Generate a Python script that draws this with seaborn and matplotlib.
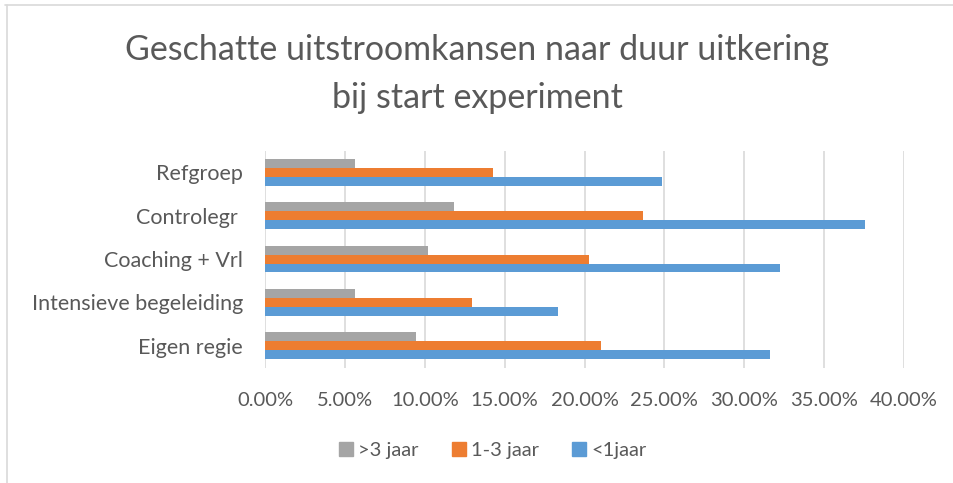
import matplotlib
matplotlib.use("Agg")
import matplotlib.pyplot as plt
import seaborn as sns
import pandas as pd
from matplotlib.ticker import FuncFormatter
from matplotlib.lines import Line2D

categories = ["Refgroep", "Controlegr ", "Coaching + Vrl", "Intensieve begeleiding", "Eigen regie"]
series_names = [">3 jaar", "1-3 jaar", "<1jaar"]
gt3 = [0.0562, 0.1183, 0.1022, 0.0562, 0.0946]
y1_3 = [0.1429, 0.2364, 0.2031, 0.1298, 0.2105]
lt1 = [0.2484, 0.3757, 0.3222, 0.1832, 0.3163]
xticks = [0.0, 0.05, 0.10, 0.15, 0.20, 0.25, 0.30, 0.35, 0.40]
title = "Geschatte uitstroomkansen naar duur uitkering\nbij start experiment"

colors = ["#a5a5a5", "#ed7d31", "#5b9bd5"]
text_color = "#595959"

rows = []
for name, vals in zip(series_names, [gt3, y1_3, lt1]):
    for c, v in zip(categories, vals):
        rows.append({"cat": c, "series": name, "val": v})
df = pd.DataFrame(rows)

sns.set_theme(style="white")
plt.rcParams["font.family"] = ["Lato", "DejaVu Sans"]

fig = plt.figure(figsize=(9.54, 4.83), dpi=100)
ax = fig.add_axes([265/954, 1-367.5/483, (904-265)/954, (367.5-150.6)/483])

sns.barplot(data=df, y="cat", x="val", hue="series", order=categories,
            hue_order=series_names, palette=colors, orient="h",
            width=0.62, ax=ax, saturation=1, legend=False, edgecolor="none")

ax.set_xlim(0, 0.40)
ax.set_ylim(len(categories)-0.5, -0.5)
ax.set_xticks(xticks)
ax.xaxis.set_major_formatter(FuncFormatter(lambda v, p: f"{v*100:.2f}%"))
ax.grid(axis="x", color="#d9d9d9", linewidth=1.2)
ax.set_axisbelow(True)
for s in ax.spines.values():
    s.set_visible(False)
ax.set_xlabel("")
ax.set_ylabel("")
ax.tick_params(axis="both", length=0, colors=text_color)
ax.tick_params(axis="y", pad=16, labelsize=15.5)
ax.tick_params(axis="x", pad=18, labelsize=14.5)

fig.text(0.5, 1-74/483, title, ha="center", va="center", fontsize=24.5,
         color=text_color, linespacing=1.58)

handles = [Line2D([0], [0], marker="s", linestyle="none", markersize=10,
                  markerfacecolor=c, markeredgecolor=c) for c in colors]
fig.legend(handles, series_names, loc="center", bbox_to_anchor=(491/954, 1-450/483),
           ncol=3, frameon=False, fontsize=14.5, labelcolor=text_color,
           handletextpad=0.1, columnspacing=1.5, handlelength=1.0)

fig.add_artist(Line2D([5/954, 1], [1-5/483, 1-5/483], transform=fig.transFigure,
                      color="#d9d9d9", linewidth=1.2))
fig.add_artist(Line2D([7/954, 7/954], [0, 1-5/483], transform=fig.transFigure,
                      color="#d9d9d9", linewidth=1.2))

fig.savefig("out.png", dpi=100, facecolor="white")
